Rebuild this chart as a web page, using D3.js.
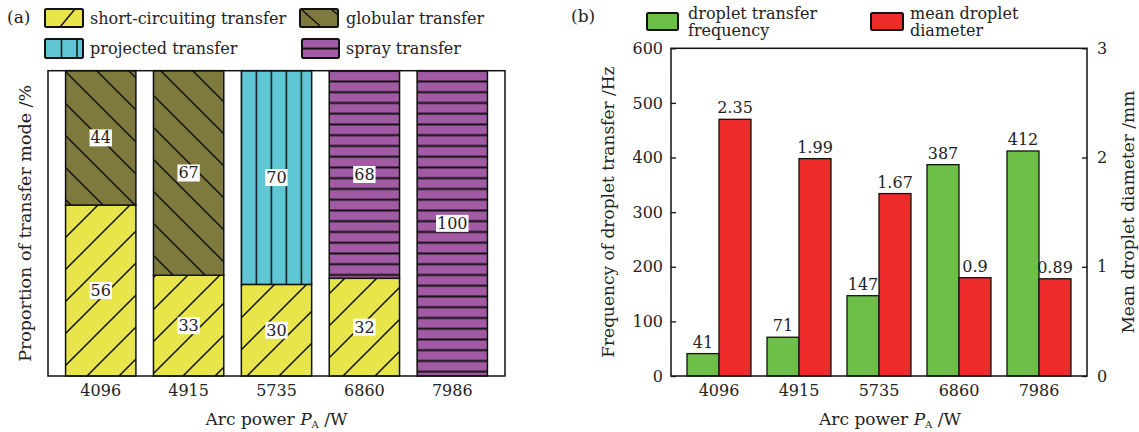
<!DOCTYPE html>
<html><head><meta charset="utf-8">
<script src="https://cdn.jsdelivr.net/npm/d3@7"></script>
<style>
body{margin:0;background:#fff;}
svg{display:block;font-family:"DejaVu Serif",serif;}
text{fill:#222;}
</style></head>
<body><svg id="c" width="1139" height="432"></svg>
<script>
// ---------- data ----------
const categories = ["4096","4915","5735","6860","7986"];
const shortCircuiting = [56,33,30,32,0];
const globular = [44,67,0,0,0];
const projected = [0,0,70,0,0];
const spray = [0,0,0,68,100];
const frequency = [41,71,147,387,412];
const diameter = [2.35,1.99,1.67,0.9,0.89];
const freqTicks = [0,100,200,300,400,500,600];
const diamTicks = [0,1,2,3];

const colors = {short:"#e8e54a", glob:"#7e7a3d", proj:"#5ec6d4", spray:"#a25aa5", green:"#6dbf47", red:"#ee2b2b"};

const svg = d3.select("#c");
const defs = svg.append("defs");

// ---------- panel (a) ----------
const A = {l:48, r:505, t:70.7, b:376};
const xA = d3.scaleBand().domain(categories).range([A.l, A.r]).paddingInner(0.2).paddingOuter(0.2);
const yA = d3.scaleLinear().domain([0,100]).range([A.b, A.t]);

function hatch(id, bg, w, h, px, py, d, sw){
  const p = defs.append("pattern").attr("id",id).attr("patternUnits","userSpaceOnUse")
    .attr("width",w).attr("height",h).attr("x",px).attr("y",py);
  p.append("rect").attr("width",w).attr("height",h).attr("fill",bg);
  p.append("path").attr("d",d).attr("stroke","#111").attr("stroke-width",sw).attr("fill","none");
}
const s = 32;
hatch("p-short", colors.short, s, s, 15, 0, `M0,${s}L${s},0M${-s/4},${s/4}L${s/4},${-s/4}M${3*s/4},${5*s/4}L${5*s/4},${3*s/4}`, 1.5);
hatch("p-glob", colors.glob, s, s, 26, 0, `M0,0L${s},${s}M${-s/4},${3*s/4}L${s/4},${5*s/4}M${3*s/4},${-s/4}L${5*s/4},${s/4}`, 1.5);
const pw = 15;
hatch("p-proj", colors.proj, pw, 20, xA("5735") - pw/2, 0, `M${pw/2},0V20`, 1.5);
const sh = 10.75;
hatch("p-spray", colors.spray, 20, sh, 0, yA(100) - sh/2, `M0,${sh/2}H20`, 2);

const series = [
  {key:"short", vals:shortCircuiting, fill:"url(#p-short)"},
  {key:"glob", vals:globular, fill:"url(#p-glob)"},
  {key:"proj", vals:projected, fill:"url(#p-proj)"},
  {key:"spray", vals:spray, fill:"url(#p-spray)"}
];
const table = categories.map((c,i)=>{const o={cat:c}; series.forEach(s=>o[s.key]=s.vals[i]); return o;});
const stacked = d3.stack().keys(series.map(s=>s.key))(table);

const gA = svg.append("g");
stacked.forEach((layer,li)=>{
  const seg = layer.map((d,i)=>({cat:categories[i], y0:d[0], y1:d[1], v:d[1]-d[0]})).filter(d=>d.v>0);
  gA.selectAll(null).data(seg).enter().append("rect")
    .attr("x",d=>xA(d.cat)).attr("width",xA.bandwidth())
    .attr("y",d=>yA(d.y1)).attr("height",d=>yA(d.y0)-yA(d.y1))
    .attr("fill",series[li].fill).attr("stroke","#111").attr("stroke-width",1.5);
});
// value labels
stacked.forEach((layer,li)=>{
  const seg = layer.map((d,i)=>({cat:categories[i], y0:d[0], y1:d[1], v:d[1]-d[0]})).filter(d=>d.v>0);
  seg.forEach(d=>{
    const g = gA.append("g");
    const t = g.append("text").attr("x",xA(d.cat)+xA.bandwidth()/2).attr("y",(yA(d.y0)+yA(d.y1))/2)
      .attr("text-anchor","middle").attr("dominant-baseline","central").attr("font-size",16).text(d.v);
    const bb = t.node().getBBox();
    g.insert("rect","text").attr("x",bb.x-1).attr("y",bb.y+1).attr("width",bb.width+2).attr("height",bb.height-2).attr("fill","#fff");
  });
});
// frame
gA.append("rect").attr("x",A.l).attr("y",A.t).attr("width",A.r-A.l).attr("height",A.b-A.t)
  .attr("fill","none").attr("stroke","#111").attr("stroke-width",1.5);
// x axis labels
const axA = gA.append("g").attr("transform",`translate(0,${A.b})`).call(d3.axisBottom(xA).tickSize(0).tickPadding(9));
axA.select(".domain").remove();
axA.selectAll("text").attr("font-size",16).attr("font-family","DejaVu Serif").attr("fill","#222");
// axis titles
function arcTitle(g, cx, y){
  const t = g.append("text").attr("x",cx).attr("y",y).attr("text-anchor","middle").attr("font-size",17);
  t.append("tspan").text("Arc power ");
  t.append("tspan").attr("font-style","italic").text("P");
  t.append("tspan").attr("font-size",10).attr("dy",3).text("A");
  t.append("tspan").attr("dy",-3).text(" /W");
}
arcTitle(gA, (A.l+A.r)/2, 425);
gA.append("text").attr("transform",`translate(31,${(A.t+A.b)/2}) rotate(-90)`).attr("text-anchor","middle")
  .attr("font-size",17.5).text("Proportion of transfer mode /%");
// panel label + legend
svg.append("text").attr("x",7).attr("y",23).attr("font-size",17).text("(a)");
const legA = svg.append("g");
function swatch(g,x,y,w,h,fill){ g.append("rect").attr("x",x).attr("y",y).attr("width",w).attr("height",h).attr("rx",1.5).attr("fill",fill).attr("stroke","#111").attr("stroke-width",2); }
swatch(legA,45,9,38,18,colors.short);
legA.append("path").attr("d","M60,27L75,9").attr("stroke","#111").attr("stroke-width",1.5);
legA.append("text").attr("x",90).attr("y",24).attr("font-size",16).text("short-circuiting transfer");
swatch(legA,300,9,38,18,colors.glob);
legA.append("path").attr("d","M302,10L320,26M331,9L338,15").attr("stroke","#111").attr("stroke-width",1.5);
legA.append("text").attr("x",346).attr("y",24).attr("font-size",16).text("globular transfer");
swatch(legA,45,39,38,19,colors.proj);
legA.append("path").attr("d","M61.5,39V58M77,39V58").attr("stroke","#111").attr("stroke-width",1.5);
legA.append("text").attr("x",90).attr("y",54).attr("font-size",16).text("projected transfer");
swatch(legA,302,39,37,19,colors.spray);
legA.append("path").attr("d","M302,48.5H339").attr("stroke","#111").attr("stroke-width",2);
legA.append("text").attr("x",346).attr("y",54).attr("font-size",16).text("spray transfer");

// ---------- panel (b) ----------
const B = {l:671, r:1087, t:48.3, b:376};
const xB = d3.scaleBand().domain(categories).range([B.l, B.r]).paddingInner(0.2).paddingOuter(0.2);
const xSub = d3.scaleBand().domain(["freq","diam"]).range([0, xB.bandwidth()]);
const yL = d3.scaleLinear().domain([0,600]).range([B.b, B.t]);
const yR = d3.scaleLinear().domain([0,3]).range([B.b, B.t]);
const gB = svg.append("g");
const fData = categories.map((c,i)=>({cat:c, v:frequency[i]}));
const dData = categories.map((c,i)=>({cat:c, v:diameter[i]}));
gB.selectAll(".gf").data(fData).enter().append("rect")
  .attr("x",d=>xB(d.cat)+xSub("freq")).attr("width",xSub.bandwidth())
  .attr("y",d=>yL(d.v)).attr("height",d=>B.b-yL(d.v))
  .attr("fill",colors.green).attr("stroke","#111").attr("stroke-width",1.3);
gB.selectAll(".gd").data(dData).enter().append("rect")
  .attr("x",d=>xB(d.cat)+xSub("diam")).attr("width",xSub.bandwidth())
  .attr("y",d=>yR(d.v)).attr("height",d=>B.b-yR(d.v))
  .attr("fill",colors.red).attr("stroke","#111").attr("stroke-width",1.3);
gB.selectAll(".tf").data(fData).enter().append("text")
  .attr("x",d=>xB(d.cat)+xSub("freq")+xSub.bandwidth()/2).attr("y",d=>yL(d.v)-6)
  .attr("text-anchor","middle").attr("font-size",16).text(d=>d.v);
gB.selectAll(".td").data(dData).enter().append("text")
  .attr("x",d=>xB(d.cat)+xSub("diam")+xSub.bandwidth()/2).attr("y",d=>yR(d.v)-6)
  .attr("text-anchor","middle").attr("font-size",16).text(d=>d.v);
// axes
const axL = gB.append("g").attr("transform",`translate(${B.l},0)`).call(d3.axisLeft(yL).tickValues(freqTicks).tickSize(-5).tickPadding(8));
const axR = gB.append("g").attr("transform",`translate(${B.r},0)`).call(d3.axisRight(yR).tickValues(diamTicks).tickFormat(d3.format("d")).tickSize(-5).tickPadding(10));
const axBx = gB.append("g").attr("transform",`translate(0,${B.b})`).call(d3.axisBottom(xB).tickSize(0).tickPadding(9));
[axL,axR,axBx].forEach(a=>{a.select(".domain").remove(); a.selectAll("text").attr("font-size",16).attr("font-family","DejaVu Serif").attr("fill","#222"); a.selectAll("line").attr("stroke","#111").attr("stroke-width",1.3);});
gB.append("rect").attr("x",B.l).attr("y",B.t).attr("width",B.r-B.l).attr("height",B.b-B.t)
  .attr("fill","none").attr("stroke","#111").attr("stroke-width",1.5);
arcTitle(gB, 890, 425);
gB.append("text").attr("transform",`translate(614,${(B.t+B.b)/2}) rotate(-90)`).attr("text-anchor","middle")
  .attr("font-size",17).text("Frequency of droplet transfer /Hz");
gB.append("text").attr("transform",`translate(1134,${(B.t+B.b)/2}) rotate(-90)`).attr("text-anchor","middle")
  .attr("font-size",17).text("Mean droplet diameter /mm");
svg.append("text").attr("x",571).attr("y",22).attr("font-size",17).text("(b)");
const legB = svg.append("g");
swatch(legB,647,13,31,17,colors.green);
legB.append("text").attr("x",688).attr("y",19).attr("font-size",16).text("droplet transfer");
legB.append("text").attr("x",688).attr("y",36).attr("font-size",16).text("frequency");
swatch(legB,871,13,32,17,colors.red);
legB.append("text").attr("x",910).attr("y",19).attr("font-size",16).text("mean droplet");
legB.append("text").attr("x",910).attr("y",36).attr("font-size",16).text("diameter");
</script></body></html>
